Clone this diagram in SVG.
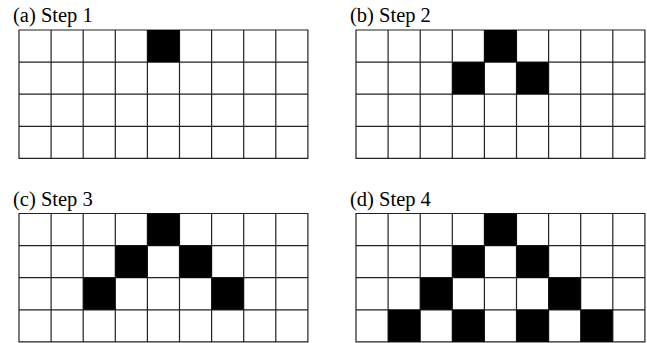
<svg xmlns="http://www.w3.org/2000/svg" width="647" height="343" viewBox="0 0 647 343">
<style>
.lbl{font-family:"Liberation Serif","Times New Roman",serif;font-size:20.5px;fill:#000}
.bg{fill:#fff;stroke:none}
.on{fill:#000;stroke:none}
.grid{stroke:#222;stroke-width:1.2;fill:none}
</style>
<defs>
<g id="grid">
<rect class="bg" x="0" y="0" width="288.9" height="128.4"/>
<path class="grid" d="M0,0H288.9V128.4H0Z M0,32.1H288.9 M0,64.2H288.9 M0,96.3H288.9 M32.1,0V128.4 M64.2,0V128.4 M96.3,0V128.4 M128.4,0V128.4 M160.5,0V128.4 M192.6,0V128.4 M224.7,0V128.4 M256.8,0V128.4"/>
</g>
</defs>
<rect width="647" height="343" fill="#fff"/>
<g id="panel-a">
<text class="lbl" x="13" y="22">(a) Step 1</text>
<g transform="translate(19,30)">
<use href="#grid"/>
<rect class="on" x="128.4" y="0" width="32.1" height="32.1"/>
</g>
</g>
<g id="panel-b">
<text class="lbl" x="350" y="22">(b) Step 2</text>
<g transform="translate(356,30)">
<use href="#grid"/>
<rect class="on" x="128.4" y="0" width="32.1" height="32.1"/>
<rect class="on" x="96.3" y="32.1" width="32.1" height="32.1"/>
<rect class="on" x="160.5" y="32.1" width="32.1" height="32.1"/>
</g>
</g>
<g id="panel-c">
<text class="lbl" x="13" y="206">(c) Step 3</text>
<g transform="translate(19,213.5)">
<use href="#grid"/>
<rect class="on" x="128.4" y="0" width="32.1" height="32.1"/>
<rect class="on" x="96.3" y="32.1" width="32.1" height="32.1"/>
<rect class="on" x="160.5" y="32.1" width="32.1" height="32.1"/>
<rect class="on" x="64.2" y="64.2" width="32.1" height="32.1"/>
<rect class="on" x="192.6" y="64.2" width="32.1" height="32.1"/>
</g>
</g>
<g id="panel-d">
<text class="lbl" x="350" y="206">(d) Step 4</text>
<g transform="translate(356,213.5)">
<use href="#grid"/>
<rect class="on" x="128.4" y="0" width="32.1" height="32.1"/>
<rect class="on" x="96.3" y="32.1" width="32.1" height="32.1"/>
<rect class="on" x="160.5" y="32.1" width="32.1" height="32.1"/>
<rect class="on" x="64.2" y="64.2" width="32.1" height="32.1"/>
<rect class="on" x="192.6" y="64.2" width="32.1" height="32.1"/>
<rect class="on" x="32.1" y="96.3" width="32.1" height="32.1"/>
<rect class="on" x="96.3" y="96.3" width="32.1" height="32.1"/>
<rect class="on" x="160.5" y="96.3" width="32.1" height="32.1"/>
<rect class="on" x="224.7" y="96.3" width="32.1" height="32.1"/>
</g>
</g>
<g id="connectors"/>
</svg>
